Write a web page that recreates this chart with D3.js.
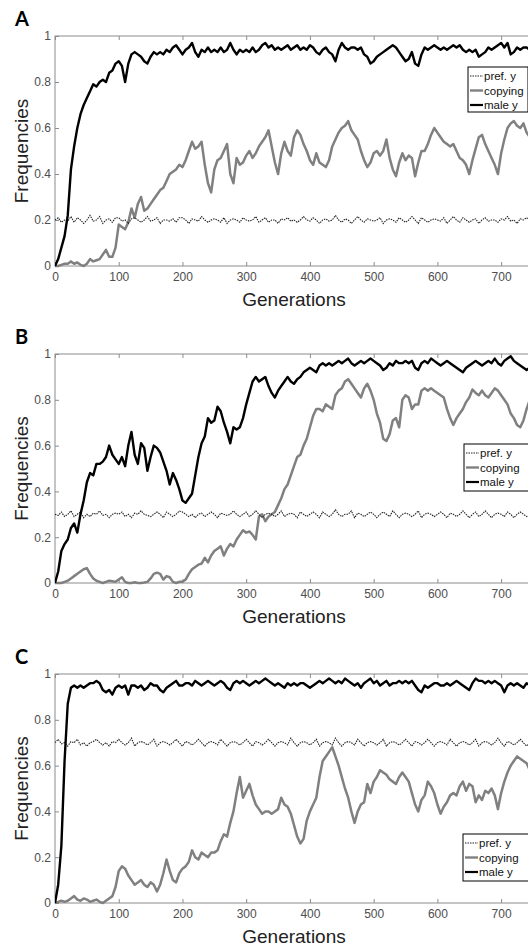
<!DOCTYPE html>
<html>
<head>
<meta charset="utf-8">
<script src="https://cdn.jsdelivr.net/npm/d3@7"></script>
<style>
  body{margin:0;background:#fff;}
  svg{display:block;}
</style>
</head>
<body>
<svg width="528" height="951"></svg>
<script>
// generations sampled every 5
var gens=d3.range(0,751,5);
var xTicks=[0,100,200,300,400,500,600,700];
var yTicks=[0,0.2,0.4,0.6,0.8,1];
var yTickLabels=["0","0.2","0.4","0.6","0.8","1"];
var seriesNames=["pref. y","copying","male y"];

// panel A
var prefA=[0.20,0.21,0.19,0.20,0.195,0.215,0.19,0.21,0.20,0.185,
0.20,0.22,0.195,0.20,0.215,0.185,0.20,0.205,0.19,0.21,
0.21,0.195,0.20,0.185,0.205,0.21,0.20,0.19,0.20,0.215,
0.195,0.20,0.21,0.185,0.20,0.20,0.195,0.205,0.19,0.21,
0.21,0.20,0.185,0.205,0.20,0.195,0.215,0.20,0.19,0.20,
0.205,0.20,0.19,0.21,0.185,0.20,0.205,0.20,0.19,0.21,
0.20,0.195,0.20,0.215,0.19,0.20,0.21,0.19,0.20,0.20,
0.185,0.205,0.20,0.21,0.195,0.20,0.19,0.20,0.215,0.20,
0.195,0.21,0.20,0.185,0.20,0.205,0.195,0.20,0.22,0.20,
0.19,0.205,0.20,0.185,0.20,0.215,0.20,0.19,0.205,0.20,
0.195,0.20,0.21,0.185,0.20,0.205,0.20,0.19,0.21,0.20,
0.19,0.20,0.215,0.20,0.185,0.21,0.20,0.19,0.20,0.205,
0.20,0.195,0.21,0.185,0.20,0.215,0.20,0.19,0.21,0.20,
0.19,0.20,0.205,0.185,0.20,0.21,0.195,0.20,0.20,0.19,
0.205,0.20,0.215,0.195,0.20,0.185,0.205,0.20,0.21,0.195,0.20];
var copyA=[0,0,0.005,0.01,0.01,0.02,0.01,0.015,0.005,0,
0.01,0.03,0.02,0.025,0.03,0.05,0.07,0.04,0.04,0.08,
0.18,0.17,0.16,0.19,0.25,0.21,0.27,0.30,0.24,0.25,
0.27,0.29,0.31,0.33,0.34,0.37,0.40,0.41,0.42,0.44,
0.43,0.46,0.50,0.54,0.51,0.52,0.54,0.44,0.36,0.32,
0.42,0.46,0.47,0.50,0.53,0.40,0.36,0.47,0.44,0.45,
0.48,0.50,0.47,0.49,0.52,0.54,0.56,0.59,0.52,0.45,
0.40,0.49,0.54,0.50,0.48,0.56,0.59,0.57,0.53,0.50,
0.46,0.44,0.49,0.45,0.44,0.43,0.46,0.52,0.55,0.58,
0.60,0.61,0.63,0.59,0.57,0.55,0.50,0.46,0.43,0.45,
0.49,0.50,0.48,0.50,0.55,0.47,0.42,0.39,0.45,0.49,
0.46,0.48,0.47,0.39,0.45,0.50,0.50,0.53,0.57,0.60,
0.58,0.56,0.54,0.53,0.52,0.53,0.50,0.47,0.46,0.44,
0.40,0.46,0.51,0.56,0.57,0.53,0.50,0.47,0.44,0.40,
0.49,0.55,0.60,0.62,0.63,0.61,0.60,0.62,0.58,0.56,0.55];
var maleA=[0,0.03,0.08,0.13,0.22,0.42,0.52,0.60,0.66,0.70,
0.73,0.76,0.79,0.78,0.80,0.81,0.80,0.84,0.85,0.88,
0.89,0.87,0.80,0.88,0.92,0.93,0.92,0.91,0.89,0.88,
0.91,0.93,0.92,0.93,0.92,0.94,0.93,0.95,0.96,0.94,
0.92,0.94,0.95,0.97,0.93,0.91,0.94,0.93,0.95,0.93,
0.94,0.93,0.95,0.93,0.94,0.97,0.94,0.92,0.94,0.93,
0.94,0.93,0.95,0.93,0.94,0.96,0.97,0.95,0.96,0.94,
0.95,0.94,0.95,0.96,0.94,0.95,0.96,0.94,0.95,0.94,
0.96,0.95,0.93,0.92,0.94,0.95,0.93,0.92,0.89,0.94,
0.97,0.95,0.94,0.95,0.95,0.94,0.95,0.92,0.91,0.88,
0.89,0.91,0.92,0.93,0.94,0.95,0.96,0.95,0.93,0.91,
0.89,0.90,0.93,0.88,0.87,0.92,0.95,0.94,0.95,0.96,
0.95,0.94,0.95,0.94,0.95,0.96,0.95,0.96,0.94,0.93,
0.94,0.93,0.94,0.91,0.92,0.93,0.95,0.94,0.95,0.96,
0.97,0.95,0.97,0.92,0.93,0.95,0.94,0.95,0.95,0.94,0.95];

// panel B
var prefB=[0.30,0.295,0.31,0.29,0.30,0.315,0.29,0.30,0.31,0.285,
0.30,0.29,0.305,0.30,0.315,0.295,0.30,0.285,0.30,0.305,
0.30,0.31,0.29,0.30,0.285,0.305,0.30,0.315,0.30,0.295,
0.29,0.30,0.31,0.30,0.285,0.31,0.30,0.29,0.30,0.315,
0.31,0.30,0.29,0.30,0.285,0.30,0.305,0.29,0.30,0.31,
0.30,0.285,0.305,0.30,0.295,0.30,0.315,0.30,0.29,0.30,
0.31,0.29,0.30,0.315,0.30,0.285,0.30,0.305,0.30,0.29,
0.30,0.315,0.29,0.30,0.305,0.30,0.285,0.31,0.30,0.29,
0.30,0.31,0.30,0.285,0.31,0.30,0.29,0.30,0.32,0.30,
0.29,0.30,0.30,0.315,0.285,0.305,0.30,0.29,0.30,0.31,
0.30,0.285,0.30,0.31,0.30,0.29,0.315,0.30,0.285,0.30,
0.305,0.30,0.29,0.30,0.315,0.285,0.30,0.305,0.30,0.29,
0.30,0.31,0.30,0.285,0.305,0.30,0.29,0.30,0.315,0.30,
0.285,0.30,0.31,0.29,0.30,0.315,0.30,0.285,0.30,0.305,
0.30,0.29,0.31,0.30,0.285,0.30,0.31,0.30,0.29,0.30,0.30];
var copyB=[0,0,0,0.005,0.01,0.02,0.03,0.04,0.05,0.06,
0.065,0.04,0.02,0.01,0.005,0,0.005,0.01,0.008,0.005,
0.015,0.025,0.005,0,0,0.003,0,0,0.002,0.005,
0.02,0.04,0.045,0.04,0.015,0.03,0.025,0.005,0,0.005,
0.005,0.015,0.04,0.06,0.07,0.08,0.085,0.11,0.09,0.12,
0.14,0.15,0.16,0.12,0.15,0.17,0.16,0.19,0.21,0.23,
0.22,0.225,0.21,0.19,0.29,0.30,0.27,0.29,0.30,0.31,
0.34,0.37,0.41,0.43,0.47,0.51,0.55,0.56,0.60,0.63,
0.68,0.73,0.76,0.76,0.75,0.78,0.77,0.76,0.82,0.84,
0.85,0.88,0.89,0.87,0.85,0.83,0.81,0.85,0.87,0.84,
0.80,0.74,0.70,0.63,0.62,0.65,0.71,0.72,0.68,0.80,
0.82,0.81,0.76,0.78,0.78,0.84,0.85,0.84,0.85,0.84,
0.83,0.82,0.81,0.76,0.72,0.69,0.72,0.74,0.76,0.79,
0.81,0.845,0.83,0.82,0.84,0.82,0.81,0.83,0.85,0.84,
0.82,0.80,0.78,0.74,0.72,0.69,0.68,0.71,0.76,0.80,0.81];
var maleB=[0,0.05,0.14,0.17,0.19,0.24,0.26,0.22,0.30,0.36,
0.44,0.48,0.47,0.52,0.52,0.53,0.55,0.60,0.56,0.54,
0.52,0.55,0.51,0.60,0.66,0.56,0.52,0.61,0.59,0.49,
0.55,0.60,0.59,0.57,0.53,0.49,0.43,0.48,0.45,0.41,
0.36,0.35,0.37,0.39,0.47,0.55,0.61,0.64,0.72,0.70,
0.71,0.77,0.75,0.70,0.66,0.61,0.68,0.67,0.68,0.72,
0.78,0.83,0.88,0.90,0.88,0.89,0.90,0.86,0.83,0.81,
0.84,0.86,0.88,0.90,0.88,0.87,0.89,0.90,0.92,0.93,
0.94,0.93,0.92,0.95,0.96,0.95,0.96,0.95,0.96,0.97,
0.96,0.97,0.98,0.96,0.95,0.96,0.97,0.96,0.97,0.98,
0.97,0.96,0.95,0.93,0.94,0.96,0.95,0.97,0.96,0.96,
0.97,0.96,0.97,0.94,0.93,0.96,0.97,0.96,0.98,0.97,
0.96,0.95,0.96,0.97,0.96,0.95,0.94,0.93,0.92,0.94,
0.95,0.96,0.97,0.96,0.95,0.96,0.97,0.96,0.98,0.96,
0.95,0.97,0.98,0.99,0.97,0.96,0.95,0.94,0.93,0.94,0.93];

// panel C
var prefC=[0.70,0.715,0.695,0.70,0.685,0.705,0.70,0.715,0.69,0.70,
0.685,0.70,0.705,0.715,0.70,0.69,0.70,0.685,0.705,0.70,
0.715,0.70,0.69,0.70,0.72,0.685,0.70,0.705,0.70,0.69,
0.70,0.715,0.685,0.70,0.705,0.70,0.69,0.70,0.715,0.70,
0.685,0.705,0.70,0.69,0.70,0.715,0.70,0.685,0.70,0.705,
0.70,0.69,0.715,0.70,0.685,0.70,0.705,0.70,0.69,0.70,
0.715,0.70,0.685,0.705,0.70,0.69,0.70,0.715,0.70,0.685,
0.70,0.705,0.70,0.69,0.72,0.70,0.685,0.70,0.705,0.70,
0.69,0.70,0.715,0.685,0.70,0.705,0.70,0.69,0.72,0.70,
0.685,0.70,0.705,0.70,0.69,0.715,0.70,0.685,0.70,0.705,
0.70,0.69,0.70,0.715,0.685,0.70,0.705,0.70,0.69,0.70,
0.715,0.70,0.685,0.705,0.70,0.69,0.70,0.715,0.70,0.685,
0.70,0.705,0.70,0.69,0.715,0.70,0.685,0.70,0.705,0.70,
0.69,0.70,0.715,0.685,0.70,0.705,0.70,0.69,0.70,0.72,
0.70,0.685,0.705,0.70,0.69,0.70,0.715,0.70,0.685,0.705,0.70];
var copyC=[0,0.005,0.01,0.005,0.01,0.02,0.03,0.015,0.01,0.02,
0.015,0.005,0.01,0.015,0.005,0,0.01,0.02,0.03,0.07,
0.14,0.16,0.15,0.12,0.10,0.08,0.09,0.10,0.08,0.07,
0.09,0.08,0.05,0.08,0.13,0.19,0.14,0.10,0.09,0.13,
0.15,0.16,0.18,0.23,0.20,0.19,0.22,0.21,0.20,0.22,
0.22,0.23,0.27,0.30,0.29,0.35,0.40,0.48,0.55,0.46,
0.49,0.52,0.47,0.43,0.41,0.39,0.40,0.40,0.39,0.40,
0.41,0.46,0.43,0.42,0.39,0.34,0.29,0.26,0.28,0.36,
0.40,0.43,0.46,0.55,0.62,0.64,0.66,0.68,0.64,0.60,
0.55,0.50,0.46,0.40,0.35,0.40,0.43,0.44,0.52,0.48,
0.53,0.55,0.58,0.57,0.56,0.54,0.53,0.52,0.55,0.57,
0.55,0.53,0.48,0.43,0.40,0.45,0.47,0.53,0.51,0.48,
0.43,0.39,0.42,0.44,0.47,0.48,0.47,0.51,0.53,0.49,
0.52,0.51,0.44,0.47,0.45,0.49,0.48,0.50,0.47,0.41,
0.48,0.53,0.57,0.60,0.62,0.64,0.63,0.62,0.61,0.58,0.59];
var maleC=[0,0.08,0.25,0.62,0.87,0.94,0.95,0.94,0.95,0.94,
0.95,0.96,0.96,0.97,0.96,0.93,0.92,0.93,0.91,0.94,
0.95,0.94,0.95,0.91,0.95,0.95,0.94,0.95,0.93,0.94,
0.96,0.95,0.95,0.93,0.92,0.94,0.95,0.96,0.97,0.95,
0.95,0.96,0.96,0.95,0.97,0.96,0.95,0.96,0.97,0.96,
0.95,0.96,0.97,0.96,0.94,0.93,0.96,0.97,0.96,0.97,
0.96,0.95,0.96,0.97,0.96,0.97,0.98,0.97,0.96,0.95,
0.96,0.95,0.94,0.96,0.95,0.96,0.95,0.96,0.96,0.95,
0.94,0.95,0.96,0.97,0.96,0.97,0.98,0.97,0.96,0.97,
0.96,0.98,0.97,0.96,0.95,0.96,0.94,0.96,0.97,0.98,
0.96,0.97,0.95,0.96,0.97,0.95,0.96,0.96,0.97,0.96,
0.97,0.96,0.97,0.95,0.93,0.92,0.95,0.94,0.95,0.96,
0.96,0.95,0.95,0.96,0.95,0.96,0.97,0.96,0.95,0.94,
0.93,0.96,0.98,0.97,0.97,0.96,0.97,0.96,0.97,0.96,
0.95,0.92,0.95,0.96,0.95,0.96,0.95,0.94,0.96,0.95,0.96];

var panels=[
  {letter:"A",top:36,bottom:266,pref:prefA,copy:copyA,male:maleA,legend:{x:468,y:67,w:60,h:45}},
  {letter:"B",top:354,bottom:583,pref:prefB,copy:copyB,male:maleB,legend:{x:464,y:444,w:66,h:47}},
  {letter:"C",top:674,bottom:903,pref:prefC,copy:copyC,male:maleC,legend:{x:463,y:834,w:67,h:47}}
];

var svg=d3.select("svg");
var left=55, right=533;
var xScale=d3.scaleLinear().domain([0,750]).range([left,right]);
var frameColor="#8c8c8c";
var tickColor="#4d4d4d";

panels.forEach(function(p,pi)
{
  var yScale=d3.scaleLinear().domain([0,1]).range([p.bottom,p.top]);
  var g=svg.append("g").classed("panel",true);

  g.append("clipPath").attr("id","clip"+pi)
   .append("rect").attr("x",left).attr("y",p.top-3)
   .attr("width",right-left).attr("height",p.bottom-p.top+6);

  // frame
  g.append("rect")
   .attr("x",left).attr("y",p.top)
   .attr("width",right-left).attr("height",p.bottom-p.top)
   .attr("fill","none").attr("stroke",frameColor).attr("stroke-width",1);

  var xAxis=d3.axisBottom(xScale).tickValues(xTicks).tickSizeInner(-4).tickSizeOuter(0).tickPadding(6);
  var xg=g.append("g").attr("transform","translate(0,"+p.bottom+")").call(xAxis);
  var xTop=d3.axisTop(xScale).tickValues(xTicks).tickSizeInner(-4).tickSizeOuter(0).tickFormat("");
  var xtg=g.append("g").attr("transform","translate(0,"+p.top+")").call(xTop);
  var yAxis=d3.axisLeft(yScale).tickValues(yTicks).tickSizeInner(-4).tickSizeOuter(0).tickPadding(4)
              .tickFormat(function(d,i){return yTickLabels[i];});
  var yg=g.append("g").attr("transform","translate("+left+",0)").call(yAxis);

  [xg,xtg,yg].forEach(function(a)
  {
    a.select(".domain").remove();
    a.selectAll("line").attr("stroke",frameColor);
    a.selectAll("text").attr("fill",tickColor)
     .style("font-family","'Liberation Sans',Arial,sans-serif").style("font-size","12px");
  });

  // lines
  var plot=g.append("g").attr("clip-path","url(#clip"+pi+")");
  var line=d3.line().x(function(d){return xScale(d[0]);}).y(function(d){return yScale(d[1]);});
  var zip=function(vals){return gens.map(function(x,i){return [x,vals[i]];}).filter(function(d){return d[1]!==undefined;});};

  plot.append("path").datum(zip(p.copy)).attr("d",line)
      .attr("fill","none").attr("stroke","#808080").attr("stroke-width",2.5).attr("stroke-linejoin","round");
  plot.append("path").datum(zip(p.pref)).attr("d",line)
      .attr("fill","none").attr("stroke","#222").attr("stroke-width",1.1).attr("stroke-dasharray","1.5,1");
  plot.append("path").datum(zip(p.male)).attr("d",line)
      .attr("fill","none").attr("stroke","#000").attr("stroke-width",2.4).attr("stroke-linejoin","round");

  // labels
  g.append("text").attr("x",15).attr("y",p.top-10)
   .style("font-family","Lato,'Open Sans',sans-serif").style("font-weight","bold").style("font-size","20px")
   .text(p.letter);
  g.append("text").attr("x",(left+right)/2).attr("y",p.bottom+40)
   .attr("text-anchor","middle").attr("fill","#222")
   .style("font-family","'Liberation Sans',Arial,sans-serif").style("font-size","19px")
   .text("Generations");
  g.append("text").attr("transform","translate(28,"+((p.top+p.bottom)/2)+") rotate(-90)")
   .attr("text-anchor","middle").attr("fill","#222")
   .style("font-family","'Liberation Sans',Arial,sans-serif").style("font-size","19px")
   .text("Frequencies");

  // legend
  var L=p.legend;
  var lg=g.append("g").attr("transform","translate("+L.x+","+L.y+")");
  lg.append("rect").attr("width",L.w).attr("height",L.h)
    .attr("fill","#fff").attr("stroke","#000").attr("stroke-width",1);
  var styles=[{c:"#222",w:1,da:"1.5,1"},{c:"#808080",w:2.4,da:null},{c:"#000",w:2.2,da:null}];
  var items=lg.selectAll("g.item").data(seriesNames).enter().append("g").classed("item",true)
    .attr("transform",function(d,i){return "translate(0,"+(9+i*14.5)+")";});
  items.append("line").attr("x1",2).attr("x2",15).attr("y1",0).attr("y2",0)
    .attr("stroke",function(d,i){return styles[i].c;})
    .attr("stroke-width",function(d,i){return styles[i].w;})
    .attr("stroke-dasharray",function(d,i){return styles[i].da;});
  items.append("text").attr("x",16).attr("y",4)
    .attr("fill","#111")
    .style("font-family","'Liberation Sans',Arial,sans-serif").style("font-size","11.5px")
    .text(function(d){return d;});
});
</script>
</body>
</html>
